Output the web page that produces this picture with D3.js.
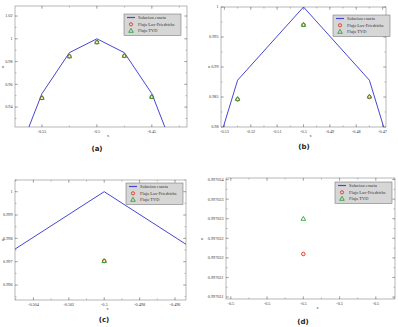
<!DOCTYPE html>
<html>
<head>
<meta charset="utf-8">
<script src="https://cdn.jsdelivr.net/npm/d3@7"></script>
<style>
  body { margin: 0; background: #fff; }
  svg { display: block; }
  .tick-label { font-family: "Liberation Serif", serif; font-size: 4.2px; fill: #333; }
  .caption { font-family: "DejaVu Sans", sans-serif; font-weight: bold; font-size: 7px; fill: #222; }
</style>
</head>
<body>
<svg id="chart" width="398" height="327"></svg>
<script>
// exact solution (same curve in every panel)
var exactX = [-0.575, -0.55, -0.525, -0.5, -0.475, -0.45, -0.425];
var exactU = [0.890, 0.9518, 0.9878, 1.0, 0.9878, 0.9518, 0.890];

// numerical fluxes
var lfX = [-0.55, -0.525, -0.5, -0.475, -0.45];
var lfU = [0.948, 0.9846, 0.9970321, 0.985, 0.949];
var tvdX = [-0.55, -0.525, -0.5, -0.475, -0.45];
var tvdU = [0.9481, 0.9847, 0.997033, 0.9851, 0.9491];

var legendNames = ["Solucion exacta", "Flujo Lax-Friedrichs", "Flujo TVD"];

// tick labels per panel
var yTicksA = [0.94, 0.96, 0.98, 1, 1.02];
var yLabelsA = ["0.94", "0.96", "0.98", "1", "1.02"];
var xTicksA = [-0.55, -0.5, -0.45];
var xLabelsA = ["-0.55", "-0.5", "-0.45"];

var yTicksB = [0.98, 0.985, 0.99, 0.995, 1];
var yLabelsB = ["0.98", "0.985", "0.99", "0.995", "1"];
var xTicksB = [-0.53, -0.52, -0.51, -0.5, -0.49, -0.48, -0.47];
var xLabelsB = ["-0.53", "-0.52", "-0.51", "-0.5", "-0.49", "-0.48", "-0.47"];

var yTicksC = [0.996, 0.997, 0.998, 0.999, 1];
var yLabelsC = ["0.996", "0.997", "0.998", "0.999", "1"];
var xTicksC = [-0.504, -0.502, -0.5, -0.498, -0.496];
var xLabelsC = ["-0.504", "-0.502", "-0.5", "-0.498", "-0.496"];

var yTicksD = [0.997031, 0.9970315, 0.997032, 0.9970325, 0.997033, 0.9970335, 0.997034];
var yLabelsD = ["0.997031", "0.997031", "0.997032", "0.997032", "0.997033", "0.997033", "0.997034"];
var xTicksD = [-0.50000002, -0.50000001, -0.5, -0.49999999, -0.49999998];
var xLabelsD = ["-0.5", "-0.5", "-0.5", "-0.5", "-0.5"];

var blue = "#4646d2", red = "#e0342c", green = "#1f9a2a";

var svg = d3.select("#chart");

var panels = [
  {id: "a", box: [15, 6, 187, 127], xd: [-0.5745, -0.418], yd: [0.9225, 1.0288],
   xt: xTicksA, xl: xLabelsA, xm: 0.025, yt: yTicksA, yl: yLabelsA, ym: 0.01,
   leg: [124, 14], cap: [97, 151]},
  {id: "b", box: [221, 7, 386, 127], xd: [-0.5313, -0.4687], yd: [0.98, 1.0],
   xt: xTicksB, xl: xLabelsB, xm: 0.005, yt: yTicksB, yl: yLabelsB, ym: 0.0025,
   leg: [333, 15], cap: [304, 149]},
  {id: "c", box: [15, 180, 186, 300], xd: [-0.50504, -0.49538], yd: [0.99536, 1.0005],
   xt: xTicksC, xl: xLabelsC, xm: 0.001, yt: yTicksC, yl: yLabelsC, ym: 0.0005,
   leg: [126, 183], cap: [104, 322]},
  {id: "d", box: [226, 178, 395, 299], xd: [-0.5 - 2.133e-8, -0.5 + 2.529e-8], yd: [0.99703095, 0.99703404],
   xt: xTicksD, xl: xLabelsD, xm: 0.5e-8, yt: yTicksD, yl: yLabelsD, ym: 0.25e-6,
   leg: [335, 182], cap: [303, 324]}
];

function minorTicks(domain, step) {
  var out = [];
  var start = Math.ceil(domain[0] / step);
  for (var k = start; k * step <= domain[1]; k++) out.push(k * step);
  return out;
}

panels.forEach(function(p) {
  var x0 = p.box[0], y0 = p.box[1], x1 = p.box[2], y1 = p.box[3];
  var x = d3.scaleLinear().domain(p.xd).range([x0, x1]);
  var y = d3.scaleLinear().domain(p.yd).range([y1, y0]);
  var g = svg.append("g");

  g.append("clipPath").attr("id", "clip" + p.id)
    .append("rect").attr("x", x0).attr("y", y0).attr("width", x1 - x0).attr("height", y1 - y0);

  // frame
  g.append("rect").attr("x", x0).attr("y", y0).attr("width", x1 - x0).attr("height", y1 - y0)
    .attr("fill", "none").attr("stroke", "#888").attr("stroke-width", 0.6);

  // ticks (inward, on all sides)
  var tg = g.append("g").attr("stroke", "#777").attr("stroke-width", 0.5);
  minorTicks(p.xd, p.xm).forEach(function(v) {
    tg.append("line").attr("x1", x(v)).attr("x2", x(v)).attr("y1", y1).attr("y2", y1 - 1.5);
    tg.append("line").attr("x1", x(v)).attr("x2", x(v)).attr("y1", y0).attr("y2", y0 + 1.5);
  });
  minorTicks(p.yd, p.ym).forEach(function(v) {
    tg.append("line").attr("y1", y(v)).attr("y2", y(v)).attr("x1", x0).attr("x2", x0 + 1.5);
    tg.append("line").attr("y1", y(v)).attr("y2", y(v)).attr("x1", x1).attr("x2", x1 - 1.5);
  });
  p.xt.forEach(function(v) {
    tg.append("line").attr("x1", x(v)).attr("x2", x(v)).attr("y1", y1).attr("y2", y1 - 3);
    tg.append("line").attr("x1", x(v)).attr("x2", x(v)).attr("y1", y0).attr("y2", y0 + 3);
  });
  p.yt.forEach(function(v) {
    tg.append("line").attr("y1", y(v)).attr("y2", y(v)).attr("x1", x0).attr("x2", x0 + 3);
    tg.append("line").attr("y1", y(v)).attr("y2", y(v)).attr("x1", x1).attr("x2", x1 - 3);
  });

  // tick labels
  p.xt.forEach(function(v, i) {
    g.append("text").attr("class", "tick-label").attr("x", x(v)).attr("y", y1 + 5.5)
      .attr("text-anchor", "middle").text(p.xl[i]);
  });
  p.yt.forEach(function(v, i) {
    g.append("text").attr("class", "tick-label").attr("x", x0 - 2.5).attr("y", y(v) + 1.4)
      .attr("text-anchor", "end").text(p.yl[i]);
  });
  g.append("text").attr("class", "tick-label").attr("x", (x0 + x1) / 2 + 7).attr("y", y1 + 9.5)
    .attr("text-anchor", "middle").text("x");
  g.append("text").attr("class", "tick-label").attr("x", p.id == "d" ? x0 - 24 : x0 - 12)
    .attr("y", (y0 + y1) / 2 + 1.4).attr("text-anchor", "middle").text("u");

  // exact solution
  var line = d3.line().x(function(d) { return x(d[0]); }).y(function(d) { return y(d[1]); });
  g.append("path").datum(d3.zip(exactX, exactU)).attr("d", line)
    .attr("clip-path", "url(#clip" + p.id + ")")
    .attr("fill", "none").attr("stroke", blue).attr("stroke-width", 1);

  // markers
  var mg = g.append("g").attr("clip-path", "url(#clip" + p.id + ")");
  d3.zip(lfX, lfU).forEach(function(d) {
    mg.append("circle").attr("cx", x(d[0])).attr("cy", y(d[1])).attr("r", 1.8)
      .attr("fill", "#e8e060").attr("fill-opacity", 0.35).attr("stroke", red).attr("stroke-width", 0.9);
  });
  var tri = d3.symbol().type(d3.symbolTriangle).size(9);
  d3.zip(tvdX, tvdU).forEach(function(d) {
    mg.append("path").attr("d", tri())
      .attr("transform", "translate(" + x(d[0]) + "," + (y(d[1]) + 0.3) + ")")
      .attr("fill", "none").attr("stroke", green).attr("stroke-width", 0.8);
  });

  // legend
  var lx = p.leg[0], ly = p.leg[1];
  var lg = g.append("g");
  lg.append("rect").attr("x", lx).attr("y", ly).attr("width", 57).attr("height", 21.5)
    .attr("fill", "#d6d6d6").attr("stroke", "#666").attr("stroke-width", 0.5);
  lg.append("line").attr("x1", lx + 3).attr("x2", lx + 11).attr("y1", ly + 3.5).attr("y2", ly + 3.5)
    .attr("stroke", blue).attr("stroke-width", 1.2);
  lg.append("circle").attr("cx", lx + 7).attr("cy", ly + 10.3).attr("r", 1.6)
    .attr("fill", "none").attr("stroke", red).attr("stroke-width", 0.9);
  lg.append("path").attr("d", tri()).attr("transform", "translate(" + (lx + 7) + "," + (ly + 17) + ")")
    .attr("fill", "none").attr("stroke", green).attr("stroke-width", 0.8);
  legendNames.forEach(function(n, i) {
    lg.append("text").attr("class", "tick-label").attr("x", lx + 14).attr("y", ly + 5 + i * 6.7)
      .style("font-size", "4.4px").text(n);
  });

  // caption
  g.append("text").attr("class", "caption").attr("x", p.cap[0]).attr("y", p.cap[1])
    .attr("text-anchor", "middle").text("(" + p.id + ")");
});
</script>
</body>
</html>
